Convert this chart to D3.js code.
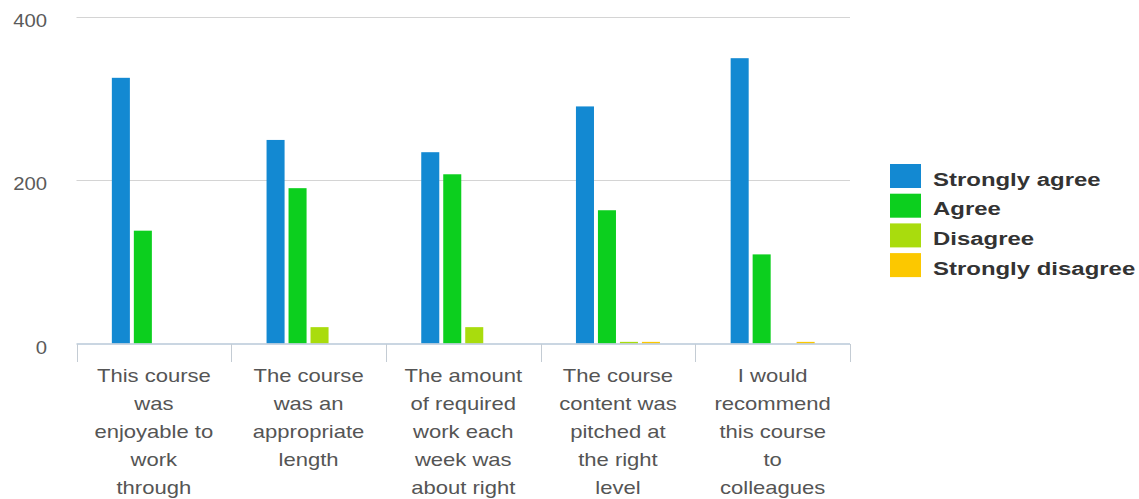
<!DOCTYPE html>
<html><head><meta charset="utf-8">
<script src="https://cdn.jsdelivr.net/npm/d3@7"></script>
<style>body{margin:0;background:#fff}svg{display:block}</style>
</head><body>
<svg id="c" width="1139" height="499"></svg>
<script>
const categories = [
  "This course|was|enjoyable to|work|through",
  "The course|was an|appropriate|length",
  "The amount|of required|work each|week was|about right",
  "The course|content was|pitched at|the right|level",
  "I would|recommend|this course|to|colleagues"
];
const seriesNames = ["Strongly agree", "Agree", "Disagree", "Strongly disagree"];
const seriesColors = ["#1389d2", "#0ccf1e", "#a9dc0d", "#fcc800"];
const stronglyAgree = [325, 249, 234, 290, 349];
const agree = [138, 190, 207, 163, 109];
const disagree = [0, 20, 20, 2, 0];
const stronglyDisagree = [0, 0, 0, 2, 2];
const yTicks = [0, 200, 400];

const seriesValues = [stronglyAgree, agree, disagree, stronglyDisagree];
const svg = d3.select("#c");
const SX = 1.16;

const y = d3.scaleLinear().domain([0, 400]).range([343.5, 16.5]);
const x0 = d3.scaleBand().domain(d3.range(categories.length)).range([76.5, 850]).padding(0);
const x1 = d3.scaleBand().domain(d3.range(seriesNames.length)).range([0, 84]).paddingInner(0.18);
const groupOffset = (x0.bandwidth() - 84) / 2;

// gridlines
svg.append("g").selectAll("line").data(yTicks.filter(d => d > 0)).join("line")
  .attr("x1", 76.5).attr("x2", 850)
  .attr("y1", d => Math.round(y(d)) + 0.5).attr("y2", d => Math.round(y(d)) + 0.5)
  .attr("stroke", "#d4d4d4").attr("stroke-width", 1.2);

// y tick labels
svg.append("g").selectAll("text").data(yTicks).join("text")
  .attr("transform", d => `translate(47,${y(d) + 10}) scale(${SX},1)`)
  .attr("text-anchor", "end")
  .attr("font-family", "Liberation Sans, Arial, sans-serif")
  .attr("font-size", 17.5).attr("fill", "#5a5a5a")
  .text(d => d);

// bars
const groups = svg.append("g").selectAll("g").data(categories).join("g")
  .attr("transform", (d, i) => `translate(${x0(i) + groupOffset},0)`);
groups.selectAll("rect").data((d, i) => seriesValues.map((s, k) => ({k, v: s[i]})).filter(e => e.v > 0))
  .join("rect")
  .attr("x", e => x1(e.k)).attr("width", x1.bandwidth())
  .attr("y", e => y(e.v)).attr("height", e => y(0) - y(e.v))
  .attr("fill", e => seriesColors[e.k]);

// x axis line
svg.append("line").attr("x1", 76.5).attr("x2", 850).attr("y1", 344).attr("y2", 344)
  .attr("stroke", "#b9c9d8").attr("stroke-width", 1.5);
// separators
svg.append("g").selectAll("line").data(d3.range(categories.length + 1)).join("line")
  .attr("x1", i => Math.round(76.5 + i * x0.bandwidth()) + 0.5)
  .attr("x2", i => Math.round(76.5 + i * x0.bandwidth()) + 0.5)
  .attr("y1", 344).attr("y2", 362)
  .attr("stroke", "#c4ccd4").attr("stroke-width", 1);

// category labels
const lab = svg.append("g").selectAll("g").data(categories).join("g");
lab.each(function(d, i) {
  const g = d3.select(this);
  d.split("|").forEach((line, j) => {
    g.append("text")
      .attr("transform", `translate(${x0(i) + x0.bandwidth() / 2},${381.5 + j * 28}) scale(${SX},1)`)
      .attr("text-anchor", "middle")
      .attr("font-family", "Liberation Sans, Arial, sans-serif")
      .attr("font-size", 19).attr("fill", "#555")
      .text(line);
  });
});

// legend
const leg = svg.append("g").selectAll("g").data(seriesNames).join("g")
  .attr("transform", (d, i) => `translate(890,${164 + i * 29.7})`);
leg.append("rect").attr("width", 31).attr("height", 24).attr("fill", (d, i) => seriesColors[i]);
leg.append("text")
  .attr("transform", `translate(43,21.5) scale(1.26,1)`)
  .attr("font-family", "Liberation Sans, Arial, sans-serif")
  .attr("font-weight", "bold").attr("font-size", 19).attr("fill", "#333")
  .text(d => d);
</script>
</body></html>
